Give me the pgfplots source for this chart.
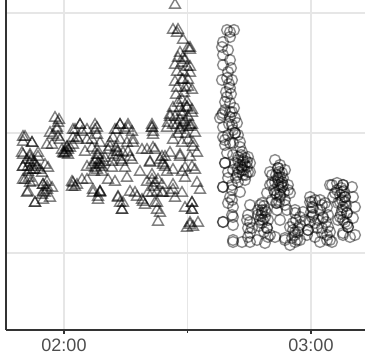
\documentclass[border=0pt]{standalone}
\usepackage{fontspec}
\setmainfont{Liberation Sans}
\usepackage{pgfplots}
\pgfplotsset{compat=1.18}
\definecolor{gridc}{HTML}{E6E6E6}
\definecolor{axc}{HTML}{333333}
\definecolor{tickc}{HTML}{4D4D4D}
\begin{document}
\begin{tikzpicture}
\begin{axis}[
  scale only axis, width=359pt, height=330pt,
  xmin=6, xmax=365, ymin=0, ymax=330,
  axis x line*=bottom, axis y line*=left,
  axis line style={-, line width=1.6pt, color=axc},
  xtick={64,311}, xticklabels={02:00,03:00},
  minor xtick={187.5},
  ytick={77,197,317}, yticklabels={},
  tick align=outside,
  x tick style={line width=1.6pt, color=axc},
  y tick style={draw=none},
  major tick length=4pt,
  xmajorgrids, ymajorgrids, xminorgrids,
  major grid style={color=gridc, line width=1.8pt},
  minor grid style={color=gridc, line width=1pt},
  xticklabel style={font=\fontsize{18}{18}\selectfont, text=tickc, yshift=-1pt},
  /pgf/number format/assume math mode=true,
  clip=true,
]
\addplot[only marks, mark=triangle, mark size=6.3pt,
  mark options={draw=black, draw opacity=0.5, fill=none, line width=1.4pt}]
coordinates {
(59,210)(57,202)(53,195)(58,193)(80,205)(73,200)(82,198)(95,200)(25,193)(23,188)(32,187)(47,185)(52,185)(73,192)(77,192)(87,190)(67,182)(63,177)(68,175)(23,175)(30,175)(38,173)(85,178)(92,182)(97,175)(100,170)(23,163)(30,167)(37,163)(45,165)(48,162)(28,158)(35,160)(42,157)(87,163)(95,162)(102,158)(23,150)(47,148)(43,145)(52,142)(73,147)(82,150)(72,143)(43,138)(42,135)(93,140)(100,138)(98,133)(35,127)(28,138)
(120,205)(128,205)(117,200)(125,200)(132,198)(152,202)(153,195)(97,202)(97,195)(113,192)(110,187)(120,190)(127,187)(133,187)(108,180)(118,178)(128,178)(142,180)(153,182)(98,175)(105,172)(112,168)(122,168)(132,170)(150,168)(160,170)(165,173)(180,175)(102,163)(112,162)(125,162)(140,158)(152,155)(163,165)(167,158)(182,158)(108,150)(115,148)(127,152)(147,148)(153,143)(162,145)(173,145)(130,138)(135,137)(100,138)(148,137)(157,138)(162,137)(118,133)(123,127)(122,120)(142,130)(145,125)(155,127)(175,132)(182,137)(157,120)(185,122)
(25,150)(30,147)(43,145)(47,143)(45,137)(27,137)(35,127)(43,130)(50,132)(47,140)(72,148)(77,145)(75,143)(87,150)(93,137)(100,137)(98,130)(118,132)(120,127)(122,120)(137,133)(143,128)(152,137)(157,127)(160,117)(158,108)(163,137)(173,140)(170,137)(192,127)(192,120)(190,107)(193,103)(187,102)
(175,325)(173,300)(178,300)(177,297)(183,290)(188,282)(190,280)(180,277)(178,272)(183,272)(175,265)(182,267)(187,263)(177,258)(183,258)(190,257)(175,248)(182,250)(188,250)(177,242)(185,242)(192,240)(182,230)(187,228)(178,227)(173,222)(180,222)(187,222)(192,220)(170,215)(175,213)(182,215)(188,213)(168,207)(177,205)(183,207)(190,205)(167,202)(180,202)
(170,213)(173,205)(180,200)(187,203)(192,205)(173,190)(182,187)(188,190)(193,183)(170,177)(180,173)(190,173)(165,163)(173,160)(185,162)(195,160)
(190,282)(185,270)(190,263)(183,250)(188,243)(187,223)(192,217)(190,203)(195,197)(193,187)(197,177)(192,163)
(185,152)(192,127)(192,120)(190,105)(198,107)(197,147)(200,140)
(152,205)(153,198)(147,180)(155,180)(150,167)(163,167)(162,173)
(23,193)(32,187)(22,177)(30,173)(38,177)(23,163)(33,160)(55,212)(58,207)(50,197)(57,200)(60,190)(67,183)(65,177)(75,200)(80,205)(87,200)(95,205)(92,190)(100,187)(97,180)(115,200)(120,205)(128,202)(133,190)(110,183)(117,178)(123,177)(130,173)(152,202)
(62,180)(66,178)(70,182)(92,165)(95,168)(100,165)(97,160)(40,160)(35,165)(30,160)(27,170)
(64,176)(68,180)(73,185)(78,190)(96,170)(99,166)(104,168)(94,158)(28,163)(31,170)(34,168)(29,152)(33,148)(118,173)(121,170)(113,175)(116,182)(182,218)(180,210)(185,208)(176,235)(184,237)(186,196)(178,196)(152,150)(155,147)(158,150)
};
\addplot[only marks, mark=o, mark size=5.4pt,
  mark options={draw=black, draw opacity=0.45, fill=none, line width=1.4pt}]
coordinates {
(227,300)(230,293)(223,288)(222,283)(230,270)(223,275)(223,265)(228,258)(227,252)(222,250)(232,250)(230,242)(227,233)(225,228)(230,227)(225,220)(232,218)(222,215)(230,213)(235,212)(223,203)(232,205)(237,207)(235,197)(228,195)(223,193)(225,185)(230,187)(240,188)(227,177)(233,175)(242,178)(225,167)(238,170)(245,172)(250,167)(233,160)(242,160)(248,158)(270,158)(278,162)(282,157)
(223,217)(230,218)(220,212)(235,197)(225,190)(233,187)(240,183)(238,173)(243,170)(248,173)(235,167)(242,163)(247,163)(225,167)(228,158)(237,155)(243,155)(250,158)(228,152)(238,148)(245,150)(223,143)(232,140)(240,138)(278,162)(272,155)(280,153)(275,148)(270,145)(282,143)(267,137)(277,135)(272,130)(232,130)(233,123)(232,115)(223,108)(233,105)(248,115)(250,108)(248,102)(250,97)(260,125)(262,117)(265,113)(262,107)(267,102)(270,95)(233,88)(257,90)(242,88)(277,120)(280,110)(275,93)
(223,143)(232,145)(230,133)(228,127)(233,113)(223,108)(233,90)(250,125)(247,110)(252,102)(248,93)(250,88)(258,120)(262,127)(263,110)(267,102)(268,93)(265,87)(272,147)(278,152)(275,137)(280,133)(277,127)(285,125)(288,145)(290,137)(287,120)(295,117)(293,107)(298,98)(285,92)(290,85)(297,90)(310,128)(313,122)(312,113)(315,107)(308,100)(307,95)(320,130)(327,123)(323,113)(328,103)(322,97)(330,90)(332,145)(337,140)(343,145)(333,133)(340,128)(345,133)(342,120)(347,117)(338,110)(348,103)(343,97)(350,93)(298,102)(295,95)(300,90)(292,92)(315,93)(320,88)(332,88)(327,95)
(275,170)(280,165)(285,160)(278,150)(283,145)(288,140)(280,135)(285,130)(276,127)(295,120)(300,113)(290,103)(295,98)(285,90)(295,88)(310,133)(315,130)(312,123)(313,115)(310,108)(308,100)(317,102)(320,120)(325,127)(323,112)(328,115)(322,102)(330,98)(327,90)(330,145)(337,147)(343,145)(342,138)(335,137)(345,133)(338,127)(343,123)(347,117)(340,113)(345,108)(348,103)(343,95)(352,143)(353,133)(355,123)(353,112)(355,95)
(240,165)(245,165)(243,168)(238,162)(262,120)(258,115)(265,120)(260,110)(278,145)(282,148)(280,140)(276,155)(342,130)(345,128)(340,135)(300,105)(305,110)(303,118)(318,110)
(230,298)(234,300)(228,280)(231,262)(229,246)(226,238)(231,236)(234,222)(229,206)(233,200)(238,195)(241,175)(244,160)(247,168)(239,158)(246,155)(236,152)(264,124)(266,118)(261,114)(259,104)(268,110)(264,98)(279,158)(283,152)(281,146)(274,140)(279,128)(284,138)(341,142)(344,139)(346,124)(341,116)(343,110)(347,106)(312,128)(311,118)(296,110)(293,100)(326,108)(322,125)
};
\end{axis}
\pgfresetboundingbox
\path (current axis.south west) ++(-6pt,-28pt) rectangle (current axis.north east);
\end{tikzpicture}
\end{document}
